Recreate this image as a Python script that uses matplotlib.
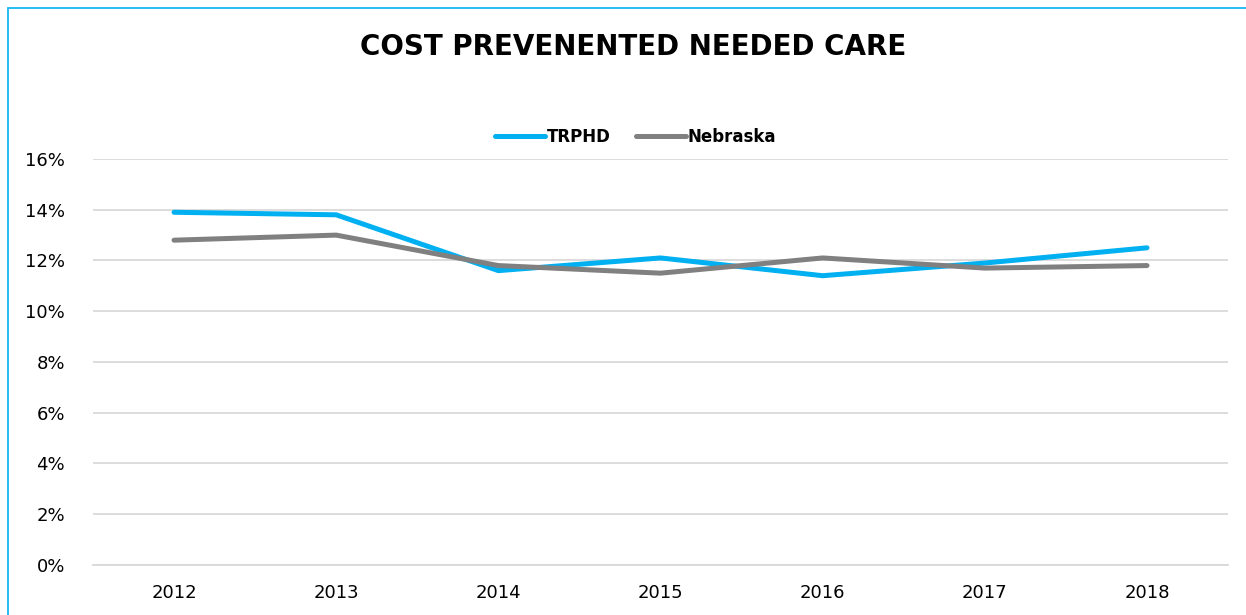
import matplotlib.pyplot as plt
from matplotlib.patches import Rectangle
from matplotlib.ticker import PercentFormatter

years = ["2012", "2013", "2014", "2015", "2016", "2017", "2018"]
trphd = [13.9, 13.8, 11.6, 12.1, 11.4, 11.9, 12.5]
nebraska = [12.8, 13.0, 11.8, 11.5, 12.1, 11.7, 11.8]
yticks = [0, 2, 4, 6, 8, 10, 12, 14, 16]

plt.rcParams['font.family'] = ['DejaVu Sans']

fig = plt.figure(figsize=(12.46, 6.15), dpi=100)
ax = fig.add_axes([0.0746, 0.0813, 0.9856 - 0.0746, 0.7415 - 0.0813])

# outer chart frame, cut off at right and bottom like the source
fig.patches.append(Rectangle((8 / 1246, -0.1), 1.2, 1 - 8 / 615 + 0.1,
                             transform=fig.transFigure, fill=False,
                             edgecolor='#00B0F0', linewidth=1.2))

x = range(len(years))
ax.plot(x, trphd, color='#00B0F0', lw=3.6, solid_capstyle='round', label='TRPHD')
ax.plot(x, nebraska, color='#808080', lw=3.6, solid_capstyle='round', label='Nebraska')

ax.set_xlim(-0.5, len(years) - 0.5)
ax.set_ylim(0, 16)
ax.set_xticks(list(x))
ax.set_xticklabels(years)
ax.set_yticks(yticks)
ax.yaxis.set_major_formatter(PercentFormatter(decimals=0))
ax.tick_params(axis='both', length=0, labelsize=13, colors='#000000')
ax.tick_params(axis='y', pad=20)
ax.tick_params(axis='x', pad=14)
ax.grid(axis='y', color='#D9D9D9', lw=1.3)
ax.set_axisbelow(True)
for s in ['top', 'right', 'left']:
    ax.spines[s].set_visible(False)
ax.spines['bottom'].set_color('#D9D9D9')
ax.spines['bottom'].set_linewidth(1.3)

fig.text(0.508, 1 - 47 / 615, "COST PREVENENTED NEEDED CARE", ha='center', va='center',
         fontsize=20, fontweight='bold')
fig.legend(loc='center', bbox_to_anchor=(0.51, 1 - 137 / 615), ncol=2, frameon=False,
           fontsize=12, prop={'weight': 'bold', 'size': 12}, handlelength=3,
           columnspacing=1.5, handletextpad=0.1)

fig.savefig("out.png", dpi=100)
